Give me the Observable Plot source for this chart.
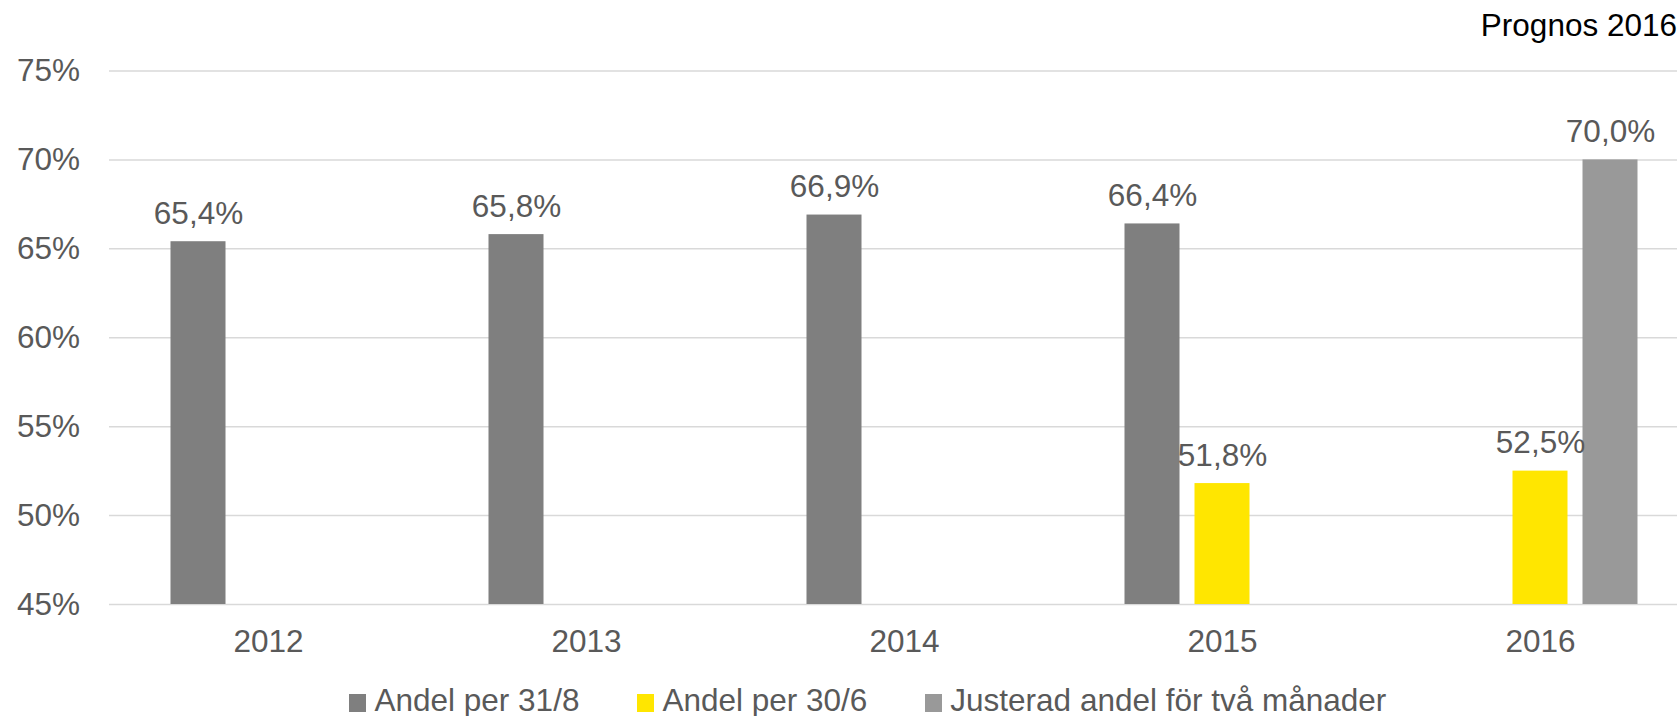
<!DOCTYPE html>
<html>
<head>
<meta charset="utf-8">
<script src="https://cdn.jsdelivr.net/npm/d3@7"></script>
<script src="https://cdn.jsdelivr.net/npm/@observablehq/plot@0.6"></script>
<style>
  html, body { margin: 0; padding: 0; background: white; overflow: hidden; }
  #wrap { position: relative; width: 1677px; height: 716px; font-family: "Liberation Sans", Arial, sans-serif; }
  #title { position: absolute; top: 10.3px; right: 0; font-size: 31.5px; line-height: 1; color: #000; white-space: nowrap; }
  #legend { position: absolute; left: 349px; top: 685.3px; display: flex; align-items: flex-end; font-size: 31.5px; line-height: 1; color: #595959; white-space: nowrap; }
  .item { display: flex; align-items: flex-end; margin-right: 57.5px; }
  .sw { width: 17px; height: 18px; margin-right: 8.5px; margin-bottom: 4.8px; }
  #chart svg { display: block; }
</style>
</head>
<body>
<div id="wrap">
  <div id="chart"></div>
  <div id="title"></div>
  <div id="legend"></div>
</div>
<script>
const years = ["2012", "2013", "2014", "2015", "2016"];
const series = ["Andel per 31/8", "Andel per 30/6", "Justerad andel för två månader"];
const andel318 = [65.4, 65.8, 66.9, 66.4, null];
const andel306 = [null, null, null, 51.8, 52.5];
const justerad = [null, null, null, null, 70.0];
const colors = ["#7f7f7f", "#ffe600", "#999999"];
const yTicks = [45, 50, 55, 60, 65, 70, 75];
const titleText = "Prognos 2016";

const seriesValues = [andel318, andel306, justerad];
const data = [];
years.forEach((yr, i) => {
  seriesValues.forEach((arr, j) => {
    if (arr[i] != null) data.push({year: yr, series: series[j], value: arr[i]});
  });
});

const fmt = v => d3.format(".1f")(v).replace(".", ",") + "%";

const chart = Plot.plot({
  width: 1677,
  height: 665,
  marginTop: 70.5,
  marginBottom: 61,
  marginLeft: 108.5,
  marginRight: -21.5,
  style: {fontFamily: "Liberation Sans, Arial, sans-serif", fontSize: "31.5px", color: "#595959", background: "white", overflow: "hidden"},
  fx: {domain: years, padding: 0, axis: "bottom", tickSize: 0, tickPadding: 25.5, label: null},
  x: {domain: series, paddingInner: 0.211, paddingOuter: 0.845, axis: null},
  y: {domain: [45, 75], ticks: yTicks, tickFormat: d => d + "%", tickSize: 0, tickPadding: 29.5, label: null},
  color: {domain: series, range: colors},
  marks: [
    Plot.ruleY(yTicks, {stroke: "#d9d9d9", strokeWidth: 1.5}),
    Plot.barY(data, {fx: "year", x: "series", y1: 45, y2: "value", fill: "series"}),
    Plot.text(data, {fx: "year", x: "series", y: "value", text: d => fmt(d.value), lineAnchor: "bottom", dy: -18, fill: "#595959"})
  ]
});
document.getElementById("chart").appendChild(chart);

document.getElementById("title").textContent = titleText;
const legend = document.getElementById("legend");
series.forEach((s, i) => {
  const item = document.createElement("div");
  item.className = "item";
  const sw = document.createElement("div");
  sw.className = "sw";
  sw.style.background = colors[i];
  const t = document.createElement("span");
  t.textContent = s;
  item.appendChild(sw);
  item.appendChild(t);
  legend.appendChild(item);
});
</script>
</body>
</html>
